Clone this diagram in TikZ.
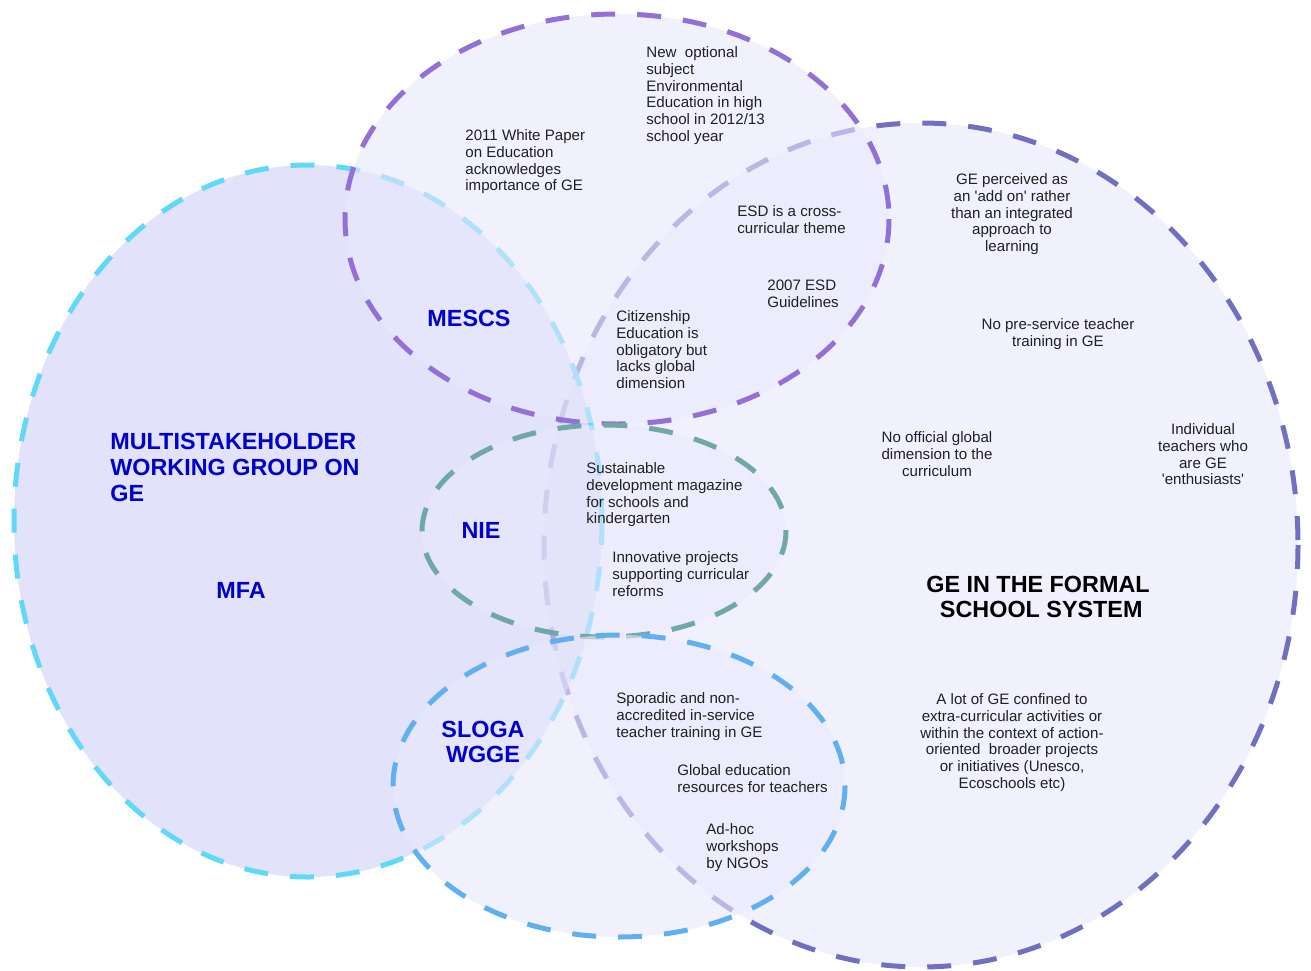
\documentclass[tikz,border=0pt]{standalone}
\usepackage{fontspec}
\setmainfont{Liberation Sans}
\usepackage{xcolor}
\usepackage{tikz}

\definecolor{mfaline}{RGB}{96,216,248}
\definecolor{mescsline}{RGB}{146,112,216}
\definecolor{geline}{RGB}{112,112,192}
\definecolor{nieline}{RGB}{112,168,168}
\definecolor{slogaline}{RGB}{96,176,240}
\definecolor{vennfill}{RGB}{232,232,252}
\definecolor{mfafill}{RGB}{206,206,246}
\definecolor{orgblue}{RGB}{0,0,204}
\definecolor{txtgray}{RGB}{32,32,32}

\begin{document}
\begin{tikzpicture}[x=0.02cm, y=-0.02cm,
  venn/.style={line width=0.1cm, dash pattern=on 0.48cm off 0.44cm, fill=vennfill, fill opacity=0.6},
  txt/.style={inner sep=0pt, text=txtgray, font=\fontsize{8.6}{9.6}\selectfont},
  lbl/.style={inner sep=0pt, text=orgblue, font=\fontsize{13.3}{14.7}\selectfont\bfseries}]
\useasboundingbox (0,0) rectangle (1311,970);
\coordinate [] (GE) at (921,545);
\coordinate [] (MFA) at (308,521);
\coordinate [] (MESCS) at (617,219);
\coordinate [] (NIE) at (604,531);
\coordinate [] (SLOGA) at (619,786);
% the five circles, back to front
\draw[venn, draw=geline] (GE) ellipse [x radius=377, y radius=422];
\draw[venn, draw=mfaline, fill=mfafill] (MFA) ellipse [x radius=294, y radius=356];
\draw[venn, draw=mescsline] (MESCS) ellipse [x radius=272, y radius=205];
\draw[venn, draw=nieline] (NIE) ellipse [x radius=182, y radius=106];
\draw[venn, draw=slogaline] (SLOGA) ellipse [x radius=226, y radius=151];
% group names
\node[lbl] (mescs) at (469,318) {MESCS};
\node[lbl, anchor=north west, align=left] (msh) at (110,433) {MULTISTAKEHOLDER\\WORKING GROUP ON\\GE};
\node[lbl] (mfa) at (241,590) {MFA};
\node[lbl] (nie) at (481,530) {NIE};
\node[lbl, align=center] (sloga) at (483,742) {SLOGA\\WGGE};
\node[lbl, text=black, align=center] (formal) at (1038,597) {GE IN THE FORMAL\\\ SCHOOL SYSTEM};
% MESCS
\node[txt, anchor=north west, align=left] (whitepaper) at (465,129) {2011 White Paper\\on Education\\acknowledges\\importance of GE};
\node[txt, anchor=north west, align=left] (optional) at (646,46) {New\ \ optional\\subject\\Environmental\\Education in high\\school in 2012/13\\school year};
\node[txt, anchor=north west, align=left] (esd) at (737,205) {ESD is a cross-\\curricular theme};
\node[txt, anchor=north west, align=left] (esdguide) at (767,280) {2007 ESD\\Guidelines};
\node[txt, anchor=north west, align=left] (citizen) at (616,310) {Citizenship\\Education is\\obligatory but\\lacks global\\dimension};
% NIE
\node[txt, anchor=north west, align=left] (magazine) at (586,462) {Sustainable\\development magazine\\for schools and\\kindergarten};
\node[txt, anchor=north west, align=left] (innov) at (612,551) {Innovative projects\\supporting curricular\\reforms};
% SLOGA
\node[txt, anchor=north west, align=left] (sporadic) at (616,692) {Sporadic and non-\\accredited in-service\\teacher training in GE};
\node[txt, anchor=north west, align=left] (resources) at (677,764) {Global education\\resources for teachers};
\node[txt, anchor=north west, align=left] (adhoc) at (706,823) {Ad-hoc\\workshops\\by NGOs};
% formal school system
\node[txt, anchor=north, align=center] (addon) at (1012,173) {GE perceived as\\an \textquotesingle add on\textquotesingle{} rather\\than an integrated\\approach to\\learning};
\node[txt, anchor=north, align=center] (preservice) at (1058,318) {No pre-service teacher\\training in GE};
\node[txt, anchor=north, align=center] (official) at (937,431) {No official global\\dimension to the\\curriculum};
\node[txt, anchor=north, align=center] (enthus) at (1203,423) {Individual\\teachers who\\are GE\\\textquotesingle enthusiasts\textquotesingle};
\node[txt, anchor=north, align=center] (extra) at (1012,693) {A lot of GE confined to\\extra-curricular activities or\\within the context of action-\\oriented\ \ broader projects\\or initiatives (Unesco,\\Ecoschools etc)};
\end{tikzpicture}
\end{document}
